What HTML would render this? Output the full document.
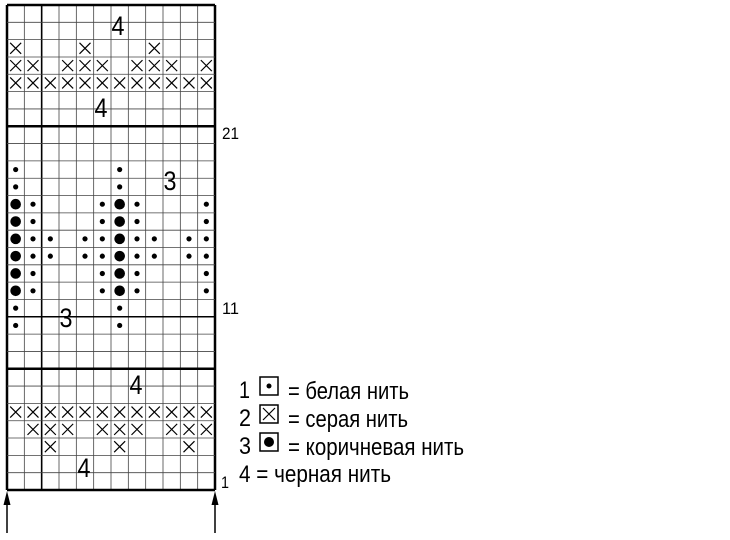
<!DOCTYPE html>
<html><head><meta charset="utf-8"><style>html,body{margin:0;padding:0;background:#fff}svg{display:block}</style></head>
<body>
<svg id="s" width="730" height="540" xmlns="http://www.w3.org/2000/svg" font-family="Liberation Sans, sans-serif">
<g id="g"></g>
<g font-size="27">
<text x="118" y="35" text-anchor="middle" textLength="13" lengthAdjust="spacingAndGlyphs">4</text>
<text x="101" y="117" text-anchor="middle" textLength="13" lengthAdjust="spacingAndGlyphs">4</text>
<text x="170" y="190" text-anchor="middle" textLength="13" lengthAdjust="spacingAndGlyphs">3</text>
<text x="66" y="327" text-anchor="middle" textLength="13" lengthAdjust="spacingAndGlyphs">3</text>
<text x="136" y="394" text-anchor="middle" textLength="13" lengthAdjust="spacingAndGlyphs">4</text>
<text x="84" y="477" text-anchor="middle" textLength="13" lengthAdjust="spacingAndGlyphs">4</text>
</g>
<g font-size="17">
<text x="222" y="139" textLength="17" lengthAdjust="spacingAndGlyphs">21</text>
<text x="222" y="314" textLength="17" lengthAdjust="spacingAndGlyphs">11</text>
<text x="221" y="488" textLength="8" lengthAdjust="spacingAndGlyphs">1</text>
</g>
<line x1="7" y1="533" x2="7" y2="500" stroke="#000" stroke-width="1.5"/>
<polygon points="7,491 3.5,505 10.5,505" fill="#000"/>
<line x1="215" y1="533" x2="215" y2="500" stroke="#000" stroke-width="1.5"/>
<polygon points="215,491 211.5,505 218.5,505" fill="#000"/>
<g font-size="24">
<text x="239" y="398" textLength="11" lengthAdjust="spacingAndGlyphs">1</text>
<rect x="260" y="377" width="18" height="18" fill="none" stroke="#000" stroke-width="1.5"/>
<circle cx="269" cy="386" r="2.5"/>
<text x="288" y="399" textLength="121" lengthAdjust="spacingAndGlyphs">= белая нить</text>
<text x="239" y="426" textLength="12" lengthAdjust="spacingAndGlyphs">2</text>
<rect x="260" y="405" width="18" height="18" fill="none" stroke="#000" stroke-width="1.5"/>
<path d="M263 408 L275 420 M275 408 L263 420" stroke="#000" stroke-width="1.2"/>
<text x="288" y="427" textLength="120" lengthAdjust="spacingAndGlyphs">= серая нить</text>
<text x="239" y="454" textLength="12" lengthAdjust="spacingAndGlyphs">3</text>
<rect x="260" y="433" width="18" height="18" fill="none" stroke="#000" stroke-width="1.5"/>
<circle cx="269" cy="442" r="5"/>
<text x="288" y="455" textLength="176" lengthAdjust="spacingAndGlyphs">= коричневая нить</text>
<text x="239" y="482" textLength="152" lengthAdjust="spacingAndGlyphs">4 = черная нить</text>
</g>
</svg>
<script>
var g=document.getElementById('g');
var L=7,T=5,W=208/12,H=485/28,o='';
for(var c=0;c<=12;c++){var x=L+c*W;o+='<line x1="'+x+'" y1="'+T+'" x2="'+x+'" y2="490" stroke="'+((c==0||c==12||c==2)?'#000':'#444')+'" stroke-width="'+((c==0||c==12)?2.5:(c==2?1.6:0.8))+'"/>';}
for(var r=0;r<=28;r++){var y=T+r*H;var w=(r==0||r==28)?2.5:((r==7||r==21)?2.5:(r==18?1.5:0.8));o+='<line x1="'+L+'" y1="'+y+'" x2="'+(L+208)+'" y2="'+y+'" stroke="'+(w>1?'#000':'#444')+'" stroke-width="'+w+'"/>';}
var rows={2:'X...X...X...',3:'XX.XXX.XXX.X',4:'XXXXXXXXXXXX',9:'s.....s.....',10:'s.....s.....',11:'Bs...sBs...s',12:'Bs...sBs...s',13:'Bss.ssBss.ss',14:'Bss.ssBss.ss',15:'Bs...sBs...s',16:'Bs...sBs...s',17:'s.....s.....',18:'s.....s.....',23:'XXXXXXXXXXXX',24:'.XXX.XXX.XXX',25:'..X...X...X.'};
for(var k in rows){var s=rows[k];for(var c=0;c<12;c++){var ch=s[c],cx=L+(c+.5)*W,cy=T+(+k+.5)*H;
if(ch=='X'){var d=5.5;o+='<path d="M'+(cx-d)+' '+(cy-d)+'L'+(cx+d)+' '+(cy+d)+'M'+(cx+d)+' '+(cy-d)+'L'+(cx-d)+' '+(cy+d)+'" stroke="#000" stroke-width="1.2"/>';}
else if(ch=='s')o+='<circle cx="'+cx+'" cy="'+cy+'" r="2.6"/>';
else if(ch=='B')o+='<circle cx="'+cx+'" cy="'+cy+'" r="5.3"/>';}}
g.innerHTML=o;
</script>
</body></html>
